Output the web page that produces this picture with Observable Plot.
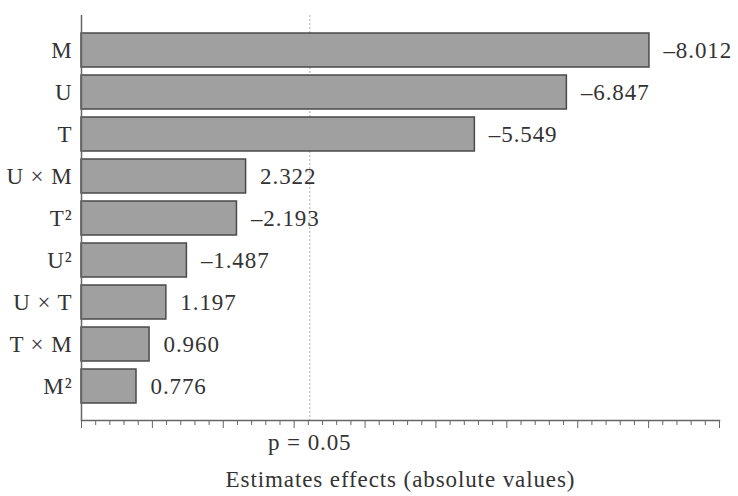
<!DOCTYPE html>
<html>
<head>
<meta charset="utf-8">
<script src="https://cdn.jsdelivr.net/npm/d3@7"></script>
<script src="https://cdn.jsdelivr.net/npm/@observablehq/plot@0.6"></script>
<style>
  html, body { margin: 0; padding: 0; background: #fff; }
</style>
</head>
<body>
<div id="chart"></div>
<script>
// Standardized effects (Pareto chart), ordered by magnitude
const terms = ["M", "U", "T", "U × M", "T²", "U²", "U × T", "T × M", "M²"];
const effects = [-8.012, -6.847, -5.549, 2.322, -2.193, -1.487, 1.197, 0.960, 0.776];
const pCritical = 3.22;          // significance threshold at p = 0.05
const pLabel = "p = 0.05";
const xTitle = "Estimates effects (absolute values)";
const majorTicks = d3.range(0, 10);
const minorTicks = d3.range(0, 45).map(i => i / 5).filter(v => !Number.isInteger(v));

const data = terms.map((term, i) => ({term, value: effects[i]}));
const fmt = v => (v < 0 ? "\u2013" : "") + Math.abs(v).toFixed(3);

const chart = Plot.plot({
  width: 738,
  height: 496,
  marginTop: 15,
  marginBottom: 76,
  marginLeft: 81,
  marginRight: 19,
  style: {
    fontFamily: "'Liberation Serif', 'Times New Roman', serif",
    fontSize: "23px",
    letterSpacing: "0.9px",
    color: "#333",
    background: "#fff"
  },
  x: {domain: [0, 9]},
  y: {domain: terms, paddingInner: 0.2, paddingOuter: 0.1, insetTop: 11, insetBottom: 10},
  marks: [
    Plot.ruleX([pCritical], {stroke: "#c8c8c8", strokeWidth: 1.5, strokeDasharray: "2,2"}),
    Plot.barX(data, {
      x: d => Math.abs(d.value),
      y: "term",
      fill: "#a0a0a0",
      stroke: "#4a4a4a",
      strokeWidth: 1.5
    }),
    Plot.text(data, {
      x: d => Math.abs(d.value),
      y: "term",
      text: d => fmt(d.value),
      dx: 14,
      textAnchor: "start",
      fill: "#333"
    }),
    Plot.axisY({tickSize: 0, tickPadding: 9, label: null, fill: "#333"}),
    Plot.axisX({ticks: majorTicks, tickSize: 8, tickFormat: () => "", label: null, stroke: "#666"}),
    Plot.axisX({ticks: minorTicks, tickSize: 5, tickFormat: () => "", label: null, stroke: "#666"}),
    Plot.ruleX([0], {stroke: "#666", strokeWidth: 1.5}),
    Plot.frame({anchor: "bottom", stroke: "#666", strokeWidth: 1.5}),
    Plot.text([pCritical], {x: d => d, text: () => pLabel, frameAnchor: "bottom", dy: 29, fill: "#333"}),
    Plot.text([xTitle], {text: d => d, frameAnchor: "bottom", dy: 66, fill: "#333"})
  ]
});

document.getElementById("chart").appendChild(chart);
</script>
</body>
</html>
